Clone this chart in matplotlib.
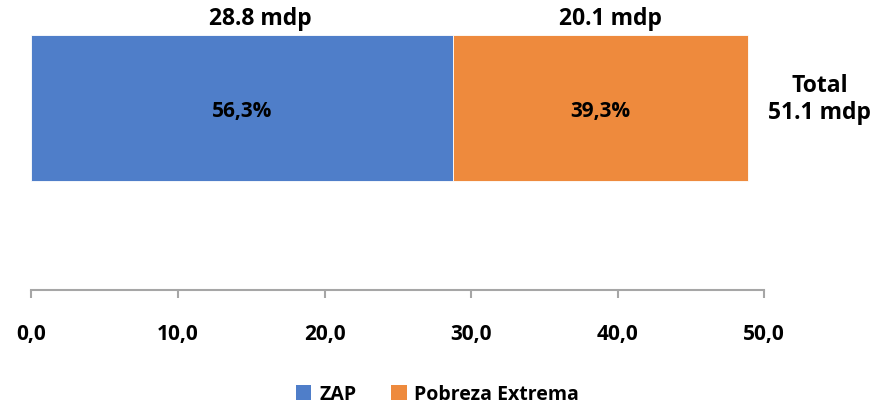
import matplotlib
matplotlib.use("Agg")
import matplotlib.pyplot as plt
from matplotlib.patches import Patch

categories = ["ZAP", "Pobreza Extrema"]
amounts = [28.8, 20.1]          # mdp
shares = ["56,3%", "39,3%"]
total_label = "51.1 mdp"
ticks = [0, 10, 20, 30, 40, 50]
colors = ["#4F7EC9", "#EE8A3D"]

plt.rcParams["font.family"] = ["Open Sans", "DejaVu Sans"]
plt.rcParams["font.weight"] = "bold"

fig = plt.figure(figsize=(8.75, 4.06), dpi=100)
ax = fig.add_axes([31.5 / 875, (406 - 291) / 406, (764 - 31.5) / 875, (291 - 36) / 406])

y0 = 0.71375
h = 0.5725
left = 0
for val, share, col in zip(amounts, shares, colors):
    ax.barh(y0, val, left=left, height=h, color=col, edgecolor="white", linewidth=0.6)
    ax.text(left + val / 2, y0 - 0.01, share, ha="center", va="center", fontsize=15, fontweight="bold")
    left += val

# value labels above each segment
ax.text(15.6, 1.068, f"{amounts[0]} mdp", ha="center", va="center", fontsize=16.5, fontweight="bold", clip_on=False)
ax.text(39.5, 1.068, f"{amounts[1]} mdp", ha="center", va="center", fontsize=16.5, fontweight="bold", clip_on=False)

ax.text(53.8, 0.75, "Total\n" + total_label, ha="center", va="center", fontsize=16.5,
        fontweight="bold", linespacing=1.15, clip_on=False)

ax.set_xlim(0, 50)
ax.set_ylim(0, 1)
ax.set_xticks(ticks)
ax.set_xticklabels([f"{t:.1f}".replace(".", ",") for t in ticks], fontsize=15, fontweight="bold")
ax.set_yticks([])
for s in ["top", "right", "left"]:
    ax.spines[s].set_visible(False)
ax.spines["bottom"].set_color("#A6A6A6")
ax.spines["bottom"].set_linewidth(1.5)
ax.tick_params(axis="x", direction="out", length=6, width=1.5, color="#A6A6A6", pad=18)

handles = [Patch(facecolor=c, label=l) for c, l in zip(colors, categories)]
fig.legend(handles=handles, loc="center", bbox_to_anchor=(0.5, (406 - 395) / 406), ncol=2,
           frameon=False, handlelength=0.8, handleheight=0.8,
           handletextpad=0.4, columnspacing=1.8, prop={"weight": "bold", "size": 14})

fig.savefig("out.png", dpi=100)
